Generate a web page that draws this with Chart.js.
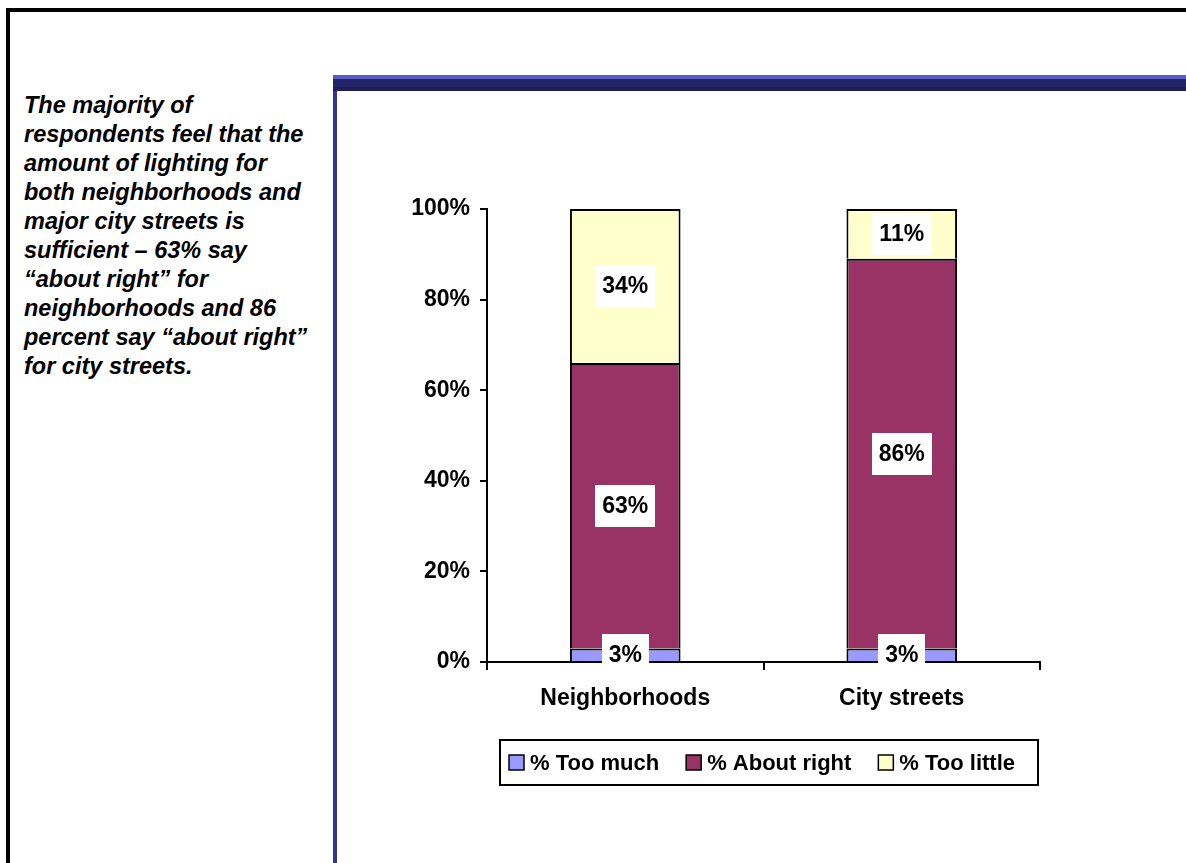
<!DOCTYPE html>
<html>
<head>
<meta charset="utf-8">
<script src="https://cdn.jsdelivr.net/npm/chart.js@4/dist/chart.umd.min.js"></script>
<style>
  html, body { margin: 0; padding: 0; background: #ffffff; width: 1186px; height: 863px; overflow: hidden; }
  .rule { position: absolute; }
  #note {
    position: absolute; left: 24px; top: 91px;
    font: italic bold 23.5px Arial, "Liberation Sans", sans-serif;
    line-height: 29px; color: #000; white-space: nowrap;
  }
  #wrap { position: absolute; left: 0; top: 0; width: 1186px; height: 863px; }
</style>
</head>
<body>
<!-- slide frame -->
<div class="rule" style="left:6px;top:8px;width:1180px;height:4px;background:#000;"></div>
<div class="rule" style="left:6px;top:8px;width:4px;height:855px;background:#000;"></div>
<!-- panel header band and side rule -->
<div class="rule" style="left:333px;top:75px;width:853px;height:4px;background:#5b5bc6;"></div>
<div class="rule" style="left:333px;top:79px;width:853px;height:8px;background:#232368;"></div>
<div class="rule" style="left:333px;top:87px;width:853px;height:4px;background:#1e1e5a;"></div>
<div class="rule" style="left:333px;top:91px;width:4px;height:772px;background:#333399;"></div>

<div id="note">The majority of<br>respondents feel that the<br>amount of lighting for<br>both neighborhoods and<br>major city streets is<br>sufficient – 63% say<br>“about right” for<br>neighborhoods and 86<br>percent say “about right”<br>for city streets.</div>

<div id="wrap"><canvas id="chart" width="1186" height="863"></canvas></div>

<script>
// Survey results: share of respondents rating the amount of street lighting
const categories = ['Neighborhoods', 'City streets'];
const seriesNames = ['% Too much', '% About right', '% Too little'];
const tooMuch = [3, 3];
const aboutRight = [63, 86];
const tooLittle = [34, 11];
const yTickValues = [0, 20, 40, 60, 80, 100];

const FONT = 'Arial, "Liberation Sans", sans-serif';
const colors = ['#9999ff', '#993366', '#ffffcc'];

// White boxed value labels in the middle of each bar segment
const segmentLabels = {
  id: 'segmentLabels',
  afterDatasetsDraw(chart) {
    const ctx = chart.ctx;
    ctx.save();
    ctx.font = 'bold 23px ' + FONT;
    ctx.textAlign = 'center';
    ctx.textBaseline = 'middle';
    chart.data.datasets.forEach((ds, di) => {
      const meta = chart.getDatasetMeta(di);
      meta.data.forEach((bar, i) => {
        const text = ds.data[i] + '%';
        const cy = (bar.y + bar.base) / 2;
        const w = ctx.measureText(text).width + 14;
        const h = 42;
        ctx.fillStyle = '#ffffff';
        ctx.fillRect(Math.round(bar.x - w / 2), Math.round(cy - h / 2), Math.round(w), h);
        ctx.fillStyle = '#000000';
        ctx.fillText(text, bar.x, cy + 1);
      });
    });
    ctx.restore();
  }
};

// Boxed legend below the plot
const boxedLegend = {
  id: 'boxedLegend',
  afterDraw(chart) {
    const ctx = chart.ctx;
    const box = { left: 500, top: 740, width: 538, height: 45 };
    ctx.save();
    ctx.lineWidth = 2;
    ctx.strokeStyle = '#000';
    ctx.strokeRect(box.left, box.top, box.width, box.height);
    ctx.font = 'bold 22px ' + FONT;
    ctx.textBaseline = 'middle';
    ctx.textAlign = 'left';
    const cy = box.top + box.height / 2;
    let x = box.left + 9;
    chart.data.datasets.forEach((ds) => {
      const s = 15;
      ctx.fillStyle = ds.backgroundColor;
      ctx.fillRect(x, cy - s / 2, s, s);
      ctx.lineWidth = 1.5;
      ctx.strokeRect(x, cy - s / 2, s, s);
      x += s + 6;
      ctx.fillStyle = '#000';
      ctx.fillText(ds.label, x, cy + 1);
      x += ctx.measureText(ds.label).width + 27;
    });
    ctx.restore();
  }
};

const seriesValues = [tooMuch, aboutRight, tooLittle];

new Chart(document.getElementById('chart'), {
  type: 'bar',
  data: {
    labels: categories,
    datasets: seriesValues.map((vals, k) => ({
      label: seriesNames[k],
      data: vals,
      backgroundColor: colors[k],
      borderColor: '#000000',
      borderWidth: 2,
      categoryPercentage: 1.0,
      barPercentage: 0.4
    }))
  },
  options: {
    responsive: false,
    animation: false,
    layout: { padding: { left: 400, top: 209, right: 146, bottom: 141 } },
    plugins: { legend: { display: false }, tooltip: { enabled: false } },
    scales: {
      x: {
        stacked: true,
        z: 1,
        afterFit(scale) { scale.height = 60; },
        grid: { offset: true, drawOnChartArea: false, color: '#000', lineWidth: 2, tickLength: 8 },
        border: { color: '#000', width: 2 },
        ticks: { color: '#000', font: { family: FONT, size: 23, weight: 'bold' }, padding: 15 }
      },
      y: {
        stacked: true,
        min: yTickValues[0],
        max: yTickValues[yTickValues.length - 1],
        afterFit(scale) { scale.width = 87; },
        afterBuildTicks(scale) { scale.ticks = yTickValues.map(v => ({ value: v })); },
        grid: { drawOnChartArea: false, color: '#000', lineWidth: 2, tickLength: 7 },
        border: { color: '#000', width: 2 },
        ticks: { color: '#000', font: { family: FONT, size: 23, weight: 'bold' }, padding: 10,
                 callback: (v) => v + '%' }
      }
    }
  },
  plugins: [segmentLabels, boxedLegend]
});
</script>
</body>
</html>
